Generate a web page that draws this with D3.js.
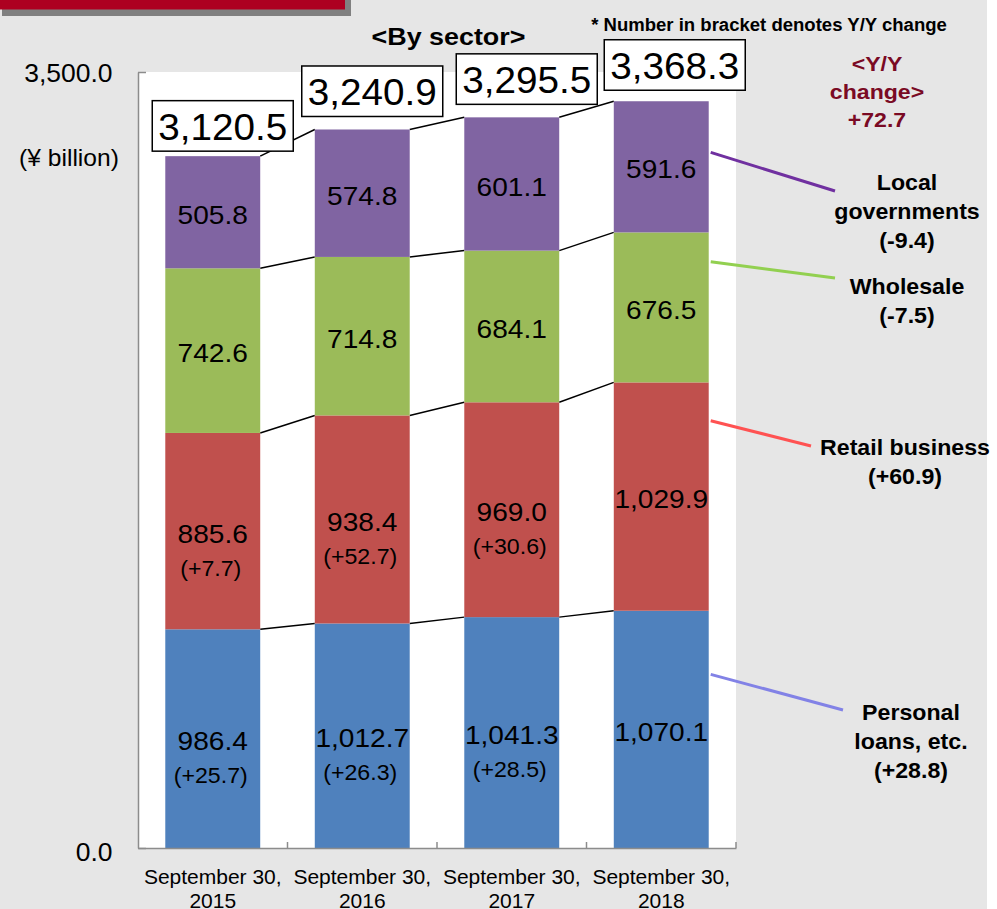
<!DOCTYPE html>
<html>
<head>
<meta charset="utf-8">
<script src="https://cdn.jsdelivr.net/npm/d3@7"></script>
<style>
  html, body { margin: 0; padding: 0; background: #ffffff; }
  svg { display: block; font-family: "Liberation Sans", Arial, Helvetica, sans-serif; }
</style>
</head>
<body>
<svg id="chart" width="997" height="909"></svg>
<script>
// ---- data (¥ billion) ----
const categories = ["September 30, 2015", "September 30, 2016", "September 30, 2017", "September 30, 2018"];
const sectorKeys = ["personal", "retail", "wholesale", "local"];           // stacked bottom -> top
const personalLoans    = [986.4, 1012.7, 1041.3, 1070.1];
const retailBusiness   = [885.6, 938.4, 969.0, 1029.9];
const wholesale        = [742.6, 714.8, 684.1, 676.5];
const localGovernments = [505.8, 574.8, 601.1, 591.6];
const personalLoansChange  = ["+25.7", "+26.3", "+28.5", null];
const retailBusinessChange = ["+7.7", "+52.7", "+30.6", null];
const totals = [3120.5, 3240.9, 3295.5, 3368.3];
const sectorNames = [["Personal", "loans, etc."], ["Retail business"], ["Wholesale"], ["Local", "governments"]];
const sectorYoY = ["+28.8", "+60.9", "-7.5", "-9.4"];
const totalYoY = "+72.7";
const yTicks = [0, 3500];

const sectorColors  = ["#4f81bd", "#c0504d", "#9bbb59", "#8064a2"];
const calloutColors = ["#8282e6", "#ff5252", "#92d050", "#7030a0"];

// ---- layout ----
const W = 997, H = 909;
const plot = { left: 138, right: 736, top: 72, bottom: 848 };

const svg = d3.select("#chart");

// page background and header tab
svg.append("rect").attr("x", 0).attr("y", 0).attr("width", 987).attr("height", H).attr("fill", "#e6e6e6");
svg.append("rect").attr("x", 2).attr("y", 0).attr("width", 349).attr("height", 16).attr("fill", "#808080");
svg.append("rect").attr("x", 0).attr("y", 0).attr("width", 345).attr("height", 9.5).attr("fill", "#ad0021");

// plot area
svg.append("rect")
  .attr("x", plot.left).attr("y", plot.top)
  .attr("width", plot.right - plot.left).attr("height", plot.bottom - plot.top)
  .attr("fill", "#ffffff");

const x = d3.scaleBand()
  .domain(categories)
  .range([plot.left, plot.right])
  .paddingInner(0.365)
  .paddingOuter(0.1825);

const y = d3.scaleLinear()
  .domain([0, 3500])
  .range([plot.bottom, plot.top]);

const rows = categories.map((c, i) => ({
  category: c,
  personal: personalLoans[i],
  retail: retailBusiness[i],
  wholesale: wholesale[i],
  local: localGovernments[i]
}));
const changes = { personal: personalLoansChange, retail: retailBusinessChange };

const series = d3.stack().keys(sectorKeys)(rows);

// text helper: places text with a slight horizontal widening
function label(parent, px, py, str, opt) {
  const o = Object.assign({ size: 20, weight: "normal", sx: 1, anchor: "middle", fill: "#000", dy: "0.36em" }, opt || {});
  return parent.append("text")
    .attr("transform", `translate(${px},${py}) scale(${o.sx},1)`)
    .attr("text-anchor", o.anchor)
    .attr("dy", o.dy)
    .attr("fill", o.fill)
    .style("font-size", o.size + "px")
    .style("font-weight", o.weight)
    .text(str);
}

// ---- connector lines between neighbouring bars ----
const connectors = svg.append("g").attr("stroke", "#000").attr("stroke-width", 1.5);
series.forEach(s => {
  for (let i = 0; i < categories.length - 1; i++) {
    connectors.append("line")
      .attr("x1", x(categories[i]) + x.bandwidth())
      .attr("y1", y(s[i][1]))
      .attr("x2", x(categories[i + 1]))
      .attr("y2", y(s[i + 1][1]));
  }
});

// ---- stacked bars ----
const layers = svg.append("g").selectAll("g")
  .data(series)
  .join("g")
  .attr("fill", (d, i) => sectorColors[i]);

layers.selectAll("rect")
  .data(d => d)
  .join("rect")
  .attr("x", d => x(d.data.category))
  .attr("y", d => y(d[1]))
  .attr("width", x.bandwidth())
  .attr("height", d => y(d[0]) - y(d[1]));

// ---- segment value labels ----
const valueFmt = d3.format(",.1f");
const valueLabels = svg.append("g");
series.forEach(s => {
  s.forEach((d, i) => {
    const cx = x(d.data.category) + x.bandwidth() / 2;
    const mid = (y(d[0]) + y(d[1])) / 2 + 2;
    label(valueLabels, cx, mid, valueFmt(d[1] - d[0]), { size: 26.5, sx: 1.06 });
    const ch = changes[s.key] ? changes[s.key][i] : null;
    if (ch) label(valueLabels, cx - 2, mid + 36, `(${ch})`, { size: 22.5, sx: 1.03, dy: "0.3em" });
  });
});

// ---- axes ----
const yAxis = svg.append("g")
  .attr("transform", `translate(${plot.left},0)`)
  .call(d3.axisLeft(y).tickValues(yTicks).tickSizeInner(-8).tickSizeOuter(0).tickPadding(24)
    .tickFormat(d3.format(",.1f")));
yAxis.select(".domain").attr("stroke", "#8c8c8c").attr("stroke-width", 1.5);
yAxis.selectAll(".tick line").attr("stroke", "#8c8c8c").attr("stroke-width", 1.5);
yAxis.selectAll(".tick text")
  .attr("fill", "#000")
  .attr("dy", d => d === 0 ? "0.5em" : "0.36em")
  .attr("transform", "scale(1.06,1)")
  .style("font-size", "25px")
  .style("font-family", "inherit");

const xAxis = svg.append("g")
  .attr("transform", `translate(0,${plot.bottom})`)
  .call(d3.axisBottom(x).tickSize(0).tickPadding(21));
xAxis.select(".domain").attr("stroke", "#8c8c8c").attr("stroke-width", 1.5);
xAxis.selectAll(".tick text")
  .attr("fill", "#000")
  .style("font-size", "21px")
  .style("font-family", "inherit")
  .each(function (d) {
    const parts = d.split(", ");
    const t = d3.select(this).text(null);
    t.append("tspan").attr("x", 0).text(parts[0] + ",");
    t.append("tspan").attr("x", 0).attr("dy", 24).text(parts[1]);
  });
// category boundary ticks
const boundaries = d3.range(1, categories.length + 1).map(i => plot.left + i * x.step());
xAxis.selectAll(".boundary")
  .data(boundaries)
  .join("line")
  .attr("class", "boundary")
  .attr("x1", d => d).attr("x2", d => d)
  .attr("y1", 0).attr("y2", -6)
  .attr("stroke", "#8c8c8c").attr("stroke-width", 1.5);

// unit label
label(svg, 69, 158, "(¥ billion)", { size: 23, sx: 1.07 });

// ---- total boxes ----
const boxLift = [5, 13, 13, 11];
const boxShift = [10, 10, 15, 13.5];
const totalsG = svg.append("g");
totals.forEach((t, i) => {
  const top = y(series[series.length - 1][i][1]);
  const cx = x(categories[i]) + x.bandwidth() / 2 + boxShift[i];
  const bottom = top - boxLift[i];
  totalsG.append("rect")
    .attr("x", cx - 70.5).attr("y", bottom - 50.5)
    .attr("width", 141).attr("height", 50.5)
    .attr("fill", "#fff").attr("stroke", "#000").attr("stroke-width", 1.5);
  label(totalsG, cx, bottom - 11, valueFmt(t), { size: 36.5, sx: 1.06, dy: "0" });
});

// ---- titles ----
label(svg, 448.5, 36, "<By sector>", { size: 24, weight: "bold", sx: 1.12 });
label(svg, 769, 25, "* Number in bracket denotes Y/Y change", { size: 18, weight: "bold", sx: 1.03 });

const yoyG = svg.append("g");
["<Y/Y", "change>", totalYoY].forEach((s, i) => {
  label(yoyG, 877, 63.5 + i * 28, s, { size: 21, weight: "bold", sx: 1.1, fill: "#7a0a24" });
});

// ---- sector callouts (2018 bar) ----
const calloutLayout = [
  { frac: 0.268, end: [843, 710], tx: 911, ty: 712 },
  { frac: 0.168, end: [811, 446], tx: 905, ty: 447 },
  { frac: 0.195, end: [835, 278], tx: 907, ty: 286 },
  { frac: 0.39,  end: [835, 191], tx: 907, ty: 182 }
];
const last = categories.length - 1;
const calloutG = svg.append("g");
series.forEach((s, k) => {
  const seg = s[last];
  const lay = calloutLayout[k];
  const y0 = y(seg[1]) + lay.frac * (y(seg[0]) - y(seg[1]));
  calloutG.append("line")
    .attr("x1", x(categories[last]) + x.bandwidth() + 2).attr("y1", y0)
    .attr("x2", lay.end[0]).attr("y2", lay.end[1])
    .attr("stroke", calloutColors[k]).attr("stroke-width", 3);
  const lines = sectorNames[k].concat([`(${sectorYoY[k]})`]);
  lines.forEach((ln, j) => {
    label(calloutG, lay.tx, lay.ty + j * 29, ln, { size: 22.5, weight: "bold", sx: 1.03 });
  });
});
</script>
</body>
</html>
